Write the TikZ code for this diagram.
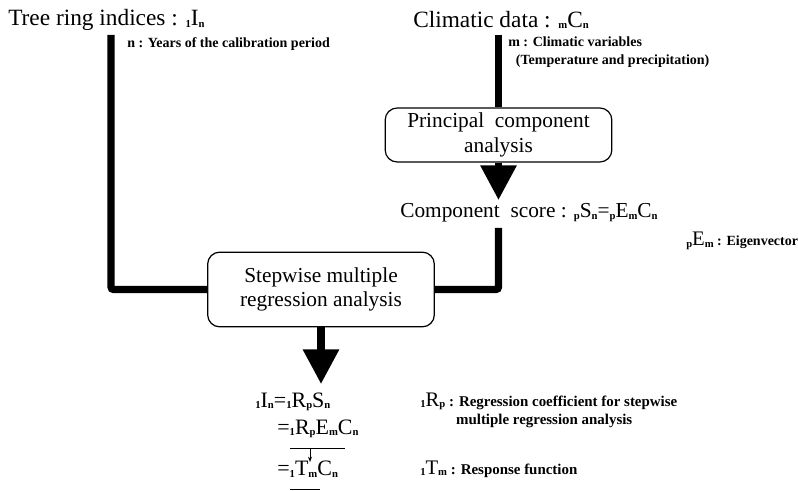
\documentclass[tikz,border=0pt]{standalone}
\usepackage{fontspec}
\setmainfont{Liberation Serif}
\usepackage{tikz}
\usetikzlibrary{arrows.meta,positioning}
\newcommand{\dn}[1]{\raisebox{-0.15ex}{\fontsize{8}{9}\selectfont\bfseries #1}}
\tikzset{
  >={Triangle[length=26pt,width=26pt]},
  title/.style={anchor=west,inner sep=0pt,font=\fontsize{17.5}{20}\selectfont},
  eqn/.style={title,font=\fontsize{16.5}{19}\selectfont},
  note/.style={anchor=west,inner sep=0pt,align=left,font=\fontsize{10.5}{13}\selectfont\bfseries},
  stage/.style={rectangle,draw,line width=0.9pt,rounded corners=9pt,align=center,
    minimum width=170pt,font=\fontsize{16}{18.5}\selectfont},
  bar/.style={draw,line width=5.5pt,rounded corners=2pt},
  flow/.style={bar,->},
  pen/.style={draw,line width=0.6pt}
}
\newcommand{\bigsym}[1]{{\mdseries\fontsize{15.5}{13}\selectfont #1}}

\begin{document}
\begin{tikzpicture}[x=0.75pt,y=-0.75pt]
  \useasboundingbox (0,0) rectangle (798,491);

  % inputs
  \node[title] (tree) at (8,20) {Tree ring indices : \dn{1}I\dn{n}};
  \node[note] (years) at (127,44) {n : Years of the calibration period};
  \node[title] (clim) at (413,20) {Climatic data : \dn{m}C\dn{n}};
  \node[note] (vars) at (508,52) {m : Climatic variables\\
    \hspace*{0.55em}(Temperature and precipitation)};

  \coordinate (treetop) at (111,35);
  \coordinate (climtop) at (498.5,35);

  % analyses
  \node[stage,minimum height=40.5pt] (pca) at (498.5,135) {Principal\ \ component\\analysis};
  \coordinate (scoretip) at (498.5,200);
  \node[title,font=\fontsize{16}{19}\selectfont] (score) at (400,213)
    {Component\ \ score : \dn{p}S\dn{n}=\dn{p}E\dn{m}C\dn{n}};
  \node[note] (eig) at (686,241) {\bigsym{\dn{p}E\dn{m}} : Eigenvector};
  \coordinate (scoretop) at (498.5,228);

  \node[stage,minimum height=56pt] (step) at (321,289.5) {Stepwise multiple\\regression analysis};
  \coordinate (result) at (321,384);

  % result
  \node[eqn] (eq1) at (255,402) {\dn{1}I\dn{n}=\dn{1}R\dn{p}S\dn{n}};
  \node[eqn] (eq2) at (277,429) {=\dn{1}R\dn{p}E\dn{m}C\dn{n}};
  \node[eqn] (eq3) at (277,469) {=\dn{1}T\dn{m}C\dn{n}};
  \node[note,font=\fontsize{11.2}{13.5}\selectfont\bfseries] (coef) at (420,410)
    {\bigsym{\dn{1}R\dn{p}} : Regression coefficient for stepwise\\
    \hspace*{2.4em}multiple regression analysis};
  \node[note,font=\fontsize{11.2}{13.5}\selectfont\bfseries] (resp) at (420,469)
    {\bigsym{\dn{1}T\dn{m}} : Response function};

  \draw[bar] (treetop) |- (step.west);
  \draw[bar] (climtop) -- (pca.north);
  \draw[bar] (scoretop) |- (step.east);
  \draw[flow] (pca.south) -- (scoretip);
  \draw[flow] (step.south) -- (result);

  \draw[pen] (290,448) -- (345,448);
  \draw[pen,-{Stealth[length=4pt,width=3pt]}] (310,448) -- (310,462);
  \draw[pen] (290,489) -- (320,489);
\end{tikzpicture}
\end{document}
